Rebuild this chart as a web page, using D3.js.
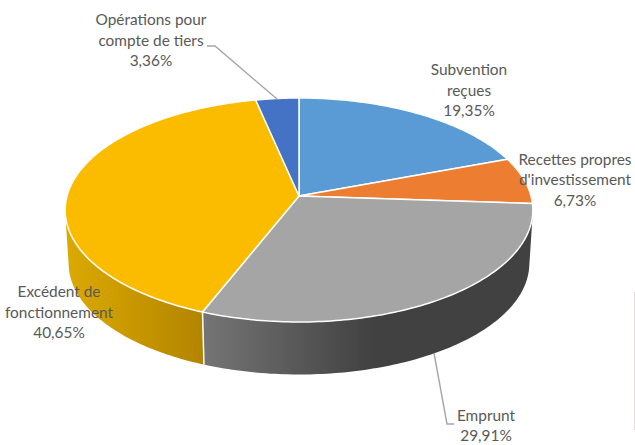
<!DOCTYPE html>
<html lang="fr"><head><meta charset="utf-8">
<script src="https://cdn.jsdelivr.net/npm/d3@7/dist/d3.min.js"></script>
<style>html,body{margin:0;padding:0;background:#fff}svg{display:block}</style>
</head><body><svg id="c" width="635" height="445"></svg>
<script>
const categories = [["Subvention","reçues"],["Recettes propres","d'investissement"],["Emprunt"],["Excédent de","fonctionnement"],["Opérations pour","compte de tiers"]];
const values = [19.35,6.73,29.91,40.65,3.36];
const topColors = ["#5B9BD5","#ED7D31","#A5A5A5","#FBBC00","#4472C4"];
const wallStops = [["#3f6d98","#3f6d98"],["#ad5b23","#ad5b23"],["#757575","#414141"],["#dcaa00","#b38400"],["#325491","#325491"]];
const wallRange = [[299,510],[510,533],[203,372],[65,203],[257,299]];
const labelAt = [[469,70],[575,159.5],[486,415.2],[59,292],[151,20]];

const svg = d3.select("#c");
const fmt = d3.formatLocale({decimal:",",thousands:" ",grouping:[3],currency:["","€"]}).format(".2f");
// perspective projection of the unit disc
const apex = {x:299,y:196}, R = 232, A = 110.25, K = -0.125;
const top3 = (t)=>{const u=Math.sin(t),v=-Math.cos(t),w=1+K*v;return [apex.x+R*u/w,apex.y+A*v/w];};
const low3 = (t)=>{const p=top3(t);return [299+(p[0]-299)*0.985,263.5+(p[1]-210)*0.991];};
const arcs = d3.pie().sort(null).startAngle(0).endAngle(2*Math.PI)(values);
const line = d3.line();
const samples = (a)=>{const n=Math.max(4,Math.ceil((a.endAngle-a.startAngle)*60));return d3.range(n+1).map(i=>a.startAngle+(a.endAngle-a.startAngle)*i/n);};

const defs = svg.append("defs");
arcs.forEach((a,i)=>{
  const g = defs.append("linearGradient").attr("id","w"+i).attr("gradientUnits","userSpaceOnUse")
    .attr("x1",wallRange[i][0]).attr("x2",wallRange[i][1]).attr("y1",0).attr("y2",0);
  g.append("stop").attr("offset",0).attr("stop-color",wallStops[i][0]);
  g.append("stop").attr("offset",1).attr("stop-color",wallStops[i][1]);
});
// side walls: one compound path of same-wound quads, so the silhouette is filled without seams
const quad = ([t0,t1])=>{
  const q=[top3(t0),top3(t1),low3(t1),low3(t0)];
  return line(d3.polygonArea(q)<0?q.reverse():q)+"Z";
};
svg.append("g").selectAll("path").data(arcs).join("path")
  .attr("d",a=>d3.pairs(samples(a)).map(quad).join(""))
  .attr("fill",(a,i)=>`url(#w${i})`);
// white seams between front-facing walls
svg.append("g").selectAll("path").data(arcs.filter(a=>-Math.cos(a.endAngle)>0.2)).join("path")
  .attr("d",a=>line([top3(a.endAngle),low3(a.endAngle)]))
  .attr("stroke","#fff").attr("stroke-width",1.5).attr("fill","none");
// top face
svg.append("g").selectAll("path").data(arcs).join("path")
  .attr("d",a=>line([[apex.x,apex.y]].concat(samples(a).map(top3)))+"Z")
  .attr("fill",(a,i)=>topColors[i]).attr("stroke","#fff").attr("stroke-width",1.5).attr("stroke-linejoin","round");
// leader lines
const leaders = [[[207,46],[215,46],[277,99]],[[434,353],[447,424],[454,424]]];
svg.append("g").selectAll("path").data(leaders).join("path")
  .attr("d",d=>line(d)).attr("fill","none").attr("stroke","#A6A6A6").attr("stroke-width",1.4);
// labels
const lh = 20.4;
const lab = svg.append("g").attr("font-family","Lato, 'Open Sans', sans-serif").attr("font-size",15.4).attr("fill","#595959").attr("text-anchor","middle");
arcs.forEach((a,i)=>{
  const rows = categories[i].concat([fmt(values[i])+"%"]);
  rows.forEach((r,j)=>lab.append("text").attr("x",labelAt[i][0]).attr("y",labelAt[i][1]+j*lh).attr("dy","0.35em").text(r));
});
// thin edge line at the right of the picture
svg.append("line").attr("x1",634.5).attr("x2",634.5).attr("y1",292).attr("y2",430).attr("stroke","#e4dcdc").attr("stroke-width",1);
</script></body></html>
